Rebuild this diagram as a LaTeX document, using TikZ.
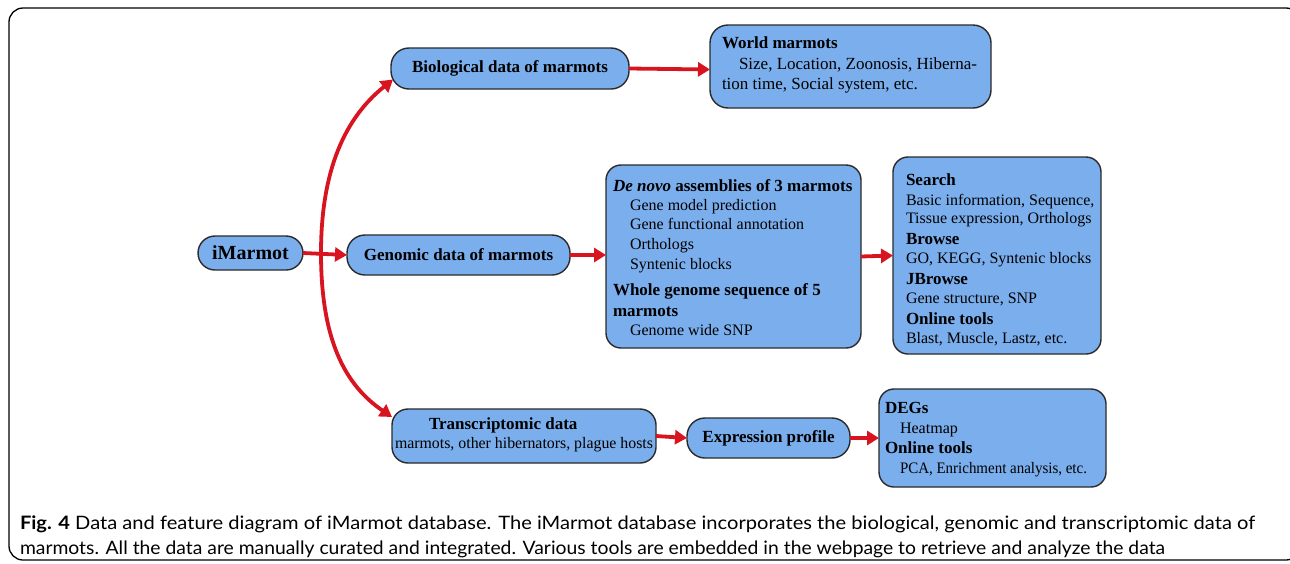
\documentclass[tikz,border=0pt]{standalone}
\usepackage{fontspec}
\usepackage{graphicx}
\setmainfont{Liberation Serif}
\newfontfamily\capfont{Lato}
\usetikzlibrary{arrows.meta,calc}
\definecolor{boxblue}{HTML}{7BAEEC}
\definecolor{arrred}{HTML}{D81420}
\definecolor{edgegray}{HTML}{2A2A2A}
\newcommand\fsz[1]{\fontsize{#1}{#1}\selectfont}
\begin{document}
\begin{tikzpicture}[x=1pt,y=-1pt,
 box/.style={draw=edgegray,line width=1.4pt,fill=boxblue,rounded corners=#1,inner sep=0pt,outer sep=0pt},
 box/.default=16pt,
 txt/.style={anchor=base west,inner sep=0pt,outer sep=0pt,text=black},
 link/.style={draw=arrred,line width=3.8pt,-{Triangle[length=12pt,width=14pt]}}]
\useasboundingbox (0,0) rectangle (1290,563);
\draw[line width=1.3pt, rounded corners=14pt] (9,8) rectangle (1300,560);

% boxes
\node[box=17pt, minimum width=105pt, minimum height=34pt] (imarmot) at (250.5,253) {\fsz{20}\bfseries iMarmot};
\node[box=18pt, minimum width=223pt, minimum height=40pt] (genomic) at (458.5,255) {\fsz{17}\bfseries Genomic data of marmots};
\node[box=18pt, minimum width=238pt, minimum height=41pt] (bio) at (510,68.5) {\fsz{17}\bfseries Biological data of marmots};
\node[box=18pt, minimum width=281pt, minimum height=83pt] (world) at (850.5,66.5) {};
\node[box=15pt, minimum width=255pt, minimum height=183pt] (denovo) at (733.5,256.5) {};
\node[box=15pt, minimum width=208pt, minimum height=197pt] (search) at (997,255.5) {};
\node[box=16pt, minimum width=264pt, minimum height=54pt] (trans) at (524,436) {};
\node[box=18pt, minimum width=163pt, minimum height=40pt] (expr) at (768.5,438) {\fsz{17}\bfseries Expression profile};
\node[box=15pt, minimum width=227pt, minimum height=98pt] (degs) at (992.5,438) {};

% world text
\node[txt] (w1) at (722,48) {\fsz{17}\bfseries World marmots};
\node[txt] (w2) at (739,69) {\fsz{17}Size, Location, Zoonosis, Hiberna-};
\node[txt] (w3) at (722,89) {\fsz{17}tion time, Social system, etc.};

% de novo text
\node[txt] (d1) at (613,191) {\fsz{17}\bfseries\itshape De novo\upshape{} assemblies of 3 marmots};
\node[txt] (d2) at (630,210) {\fsz{16}Gene model prediction};
\node[txt] (d3) at (630,229) {\fsz{16}Gene functional annotation};
\node[txt] (d4) at (630,249) {\fsz{16}Orthologs};
\node[txt] (d5) at (630,269) {\fsz{16}Syntenic blocks};
\node[txt] (d6) at (613,295) {\fsz{17}\bfseries Whole genome sequence of 5};
\node[txt] (d7) at (613,316) {\fsz{17}\bfseries marmots};
\node[txt] (d8) at (630,335) {\fsz{16}Genome wide SNP};

% search text
\node[txt] (s1) at (906,185) {\fsz{17}\bfseries Search};
\node[txt] (s2) at (906,205) {\fsz{16}Basic information, Sequence,};
\node[txt] (s3) at (906,223) {\fsz{16}Tissue expression, Orthologs};
\node[txt] (s4) at (906,244) {\fsz{17}\bfseries Browse};
\node[txt] (s5) at (906,263) {\fsz{16}GO, KEGG, Syntenic blocks};
\node[txt] (s6) at (906,284) {\fsz{17}\bfseries JBrowse};
\node[txt] (s7) at (906,303) {\fsz{16}Gene structure, SNP};
\node[txt] (s8) at (906,324) {\fsz{17}\bfseries Online tools};
\node[txt] (s9) at (906,343) {\fsz{16}Blast, Muscle, Lastz, etc.};

% transcriptomic text
\node[txt] (t1) at (429,429) {\fsz{17}\bfseries Transcriptomic data};
\node[txt] (t2) at (395,448) {\fsz{16}\resizebox{258pt}{\height}{marmots, other hibernators, plague hosts}};

% DEGs text
\node[txt] (g1) at (885,413) {\fsz{17}\bfseries DEGs};
\node[txt] (g2) at (900,433) {\fsz{16}\resizebox{58pt}{\height}{Heatmap}};
\node[txt] (g3) at (885,453) {\fsz{17}\bfseries Online tools};
\node[txt] (g4) at (900,473) {\fsz{16}\resizebox{187pt}{\height}{PCA, Enrichment analysis, etc.}};

% connectors
\coordinate (j) at (321,253);
\coordinate (bioin) at ($(bio.west)+(2,11)$);
\coordinate (transin) at ($(trans.north west)+(0,8)$);
\draw[link] (bio.east) -- ($(world.west)+(0,3)$);
\draw[link] (imarmot.east) -- (genomic.west);
\draw[link] (genomic.east) -- (denovo.west |- genomic.east);
\draw[link] (denovo.east) -- (search.west);
\draw[link] (trans.east) -- (expr.west);
\draw[link] (expr.east) -- (degs.west);
\draw[link] (j) .. controls (321,170) and (345,118) .. (bioin);
\draw[link] (j) .. controls (321,340) and (345,385) .. (transin);

% caption
\node[txt] (cap1) at (20,529) {\capfont\fsz{18.5}\resizebox{1235pt}{\height}{\textbf{Fig. 4} Data and feature diagram of iMarmot database. The iMarmot database incorporates the biological, genomic and transcriptomic data of}};
\node[txt] (cap2) at (20,554) {\capfont\fsz{18.5}\resizebox{1145pt}{\height}{marmots. All the data are manually curated and integrated. Various tools are embedded in the webpage to retrieve and analyze the data}};
\end{tikzpicture}
\end{document}
